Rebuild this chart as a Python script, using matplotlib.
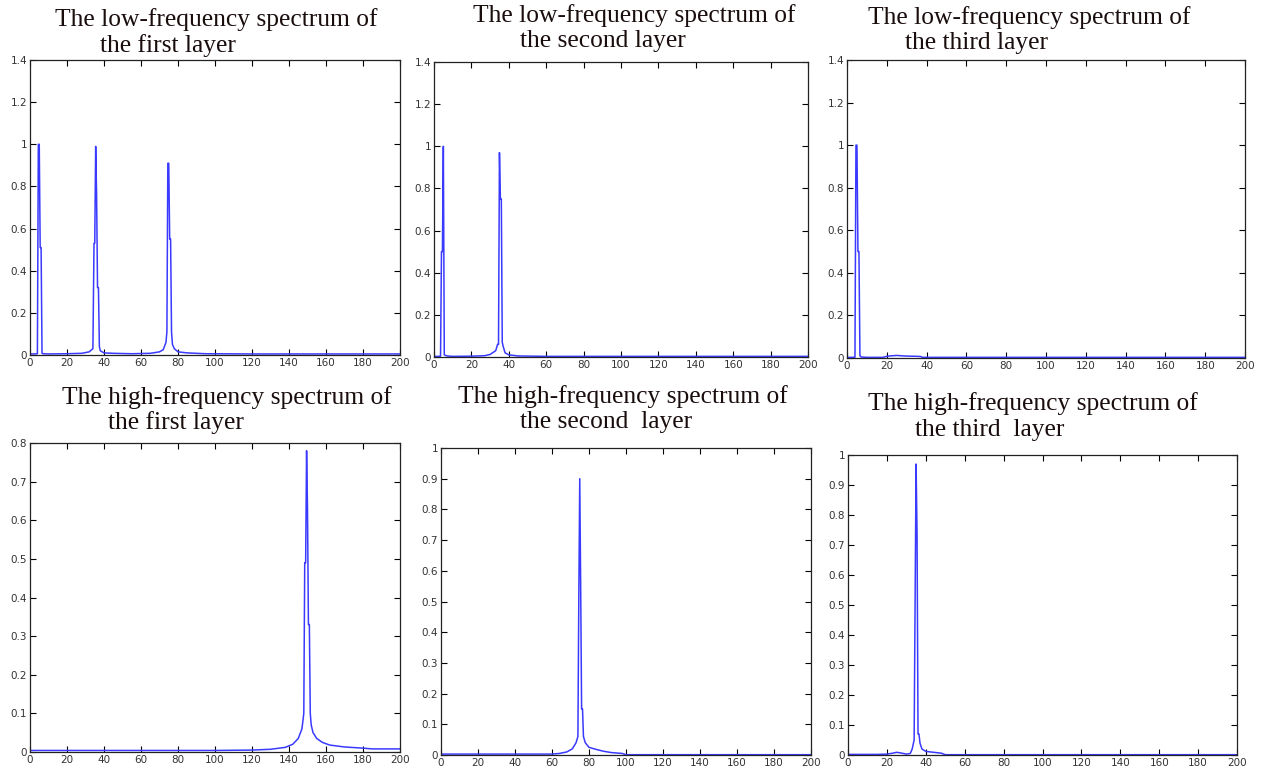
import matplotlib
matplotlib.use('Agg')
import matplotlib.pyplot as plt

# low-frequency spectra (top row)
low1_x = [0, 3, 4, 4.5, 5, 5.5, 6, 6.5, 7, 10, 20, 28, 32, 34, 34.6, 35, 35.5, 36, 36.5, 37, 37.5, 38, 40, 45, 55,
          65, 70, 72, 73.5, 74, 74.5, 75, 75.5, 76, 76.5, 77, 78, 80, 85, 95, 120, 200]
low1_y = [0.005, 0.005, 0.006, 1.0, 1.0, 0.51, 0.51, 0.008, 0.006, 0.005, 0.006, 0.008, 0.015, 0.03, 0.53, 0.53,
          0.99, 0.76, 0.32, 0.32, 0.04, 0.02, 0.01, 0.008, 0.006,
          0.008, 0.015, 0.025, 0.06, 0.11, 0.91, 0.91, 0.55, 0.55, 0.11, 0.05, 0.03, 0.015, 0.01, 0.006, 0.005, 0.005]

low2_x = [0, 3, 3.5, 4, 4.5, 5, 5.5, 6, 7, 10, 20, 27, 30, 33, 34, 34.5, 35, 35.5, 36, 36.5, 37, 38, 40, 45, 60, 200]
low2_y = [0.003, 0.003, 0.004, 0.5, 0.5, 1.0, 0.01, 0.008, 0.005, 0.003, 0.004, 0.006, 0.012, 0.03, 0.06, 0.06,
          0.97, 0.75, 0.75, 0.07, 0.05, 0.02, 0.01, 0.005, 0.003, 0.003]

low3_x = [0, 3, 4, 4.5, 5, 5.5, 6, 6.5, 7, 10, 18, 20, 22, 25, 28, 30, 35, 37, 38, 45, 200]
low3_y = [0.003, 0.003, 0.004, 1.0, 1.0, 0.5, 0.5, 0.01, 0.005, 0.003, 0.003, 0.008, 0.01, 0.012, 0.01, 0.009,
          0.008, 0.007, 0.003, 0.003, 0.003]

# high-frequency spectra (bottom row)
high1_x = [0, 60, 100, 120, 130, 138, 142, 145, 147, 148, 148.5, 149, 149.5, 150, 150.5, 151, 151.5, 152, 153,
           155, 158, 162, 170, 180, 185, 200]
high1_y = [0.004, 0.004, 0.004, 0.005, 0.007, 0.012, 0.02, 0.035, 0.06, 0.1, 0.49, 0.49, 0.78, 0.63, 0.33, 0.33,
           0.1, 0.07, 0.05, 0.035, 0.025, 0.018, 0.013, 0.01, 0.008, 0.008]

high2_x = [0, 40, 60, 64, 68, 71, 73, 74, 74.5, 75, 75.5, 76, 76.5, 77, 78, 80, 84, 88, 92, 98, 100, 200]
high2_y = [0.003, 0.003, 0.003, 0.005, 0.01, 0.02, 0.04, 0.06, 0.52, 0.9, 0.55, 0.15, 0.15, 0.06, 0.04, 0.025,
           0.018, 0.012, 0.008, 0.005, 0.001, 0.001]

high3_x = [0, 15, 20, 23, 25, 27, 30, 32, 33, 34, 34.5, 35, 35.5, 36, 36.5, 37, 38, 40, 44, 48, 50, 200]
high3_y = [0.002, 0.002, 0.003, 0.006, 0.009, 0.007, 0.003, 0.005, 0.02, 0.05, 0.51, 0.97, 0.74, 0.07, 0.07, 0.04,
           0.02, 0.012, 0.009, 0.006, 0.001, 0.001]

titles = [("The low-frequency spectrum of", "the first layer"),
          ("The low-frequency spectrum of", "the second layer"),
          ("The low-frequency spectrum of", "the third layer"),
          ("The high-frequency spectrum of", "the first layer"),
          ("The high-frequency spectrum of", "the second  layer"),
          ("The high-frequency spectrum of", "the third  layer")]

W, H = 1263, 773
fig = plt.figure(figsize=(W / 100, H / 100), dpi=100)

# axes boxes in pixels: left, top, right, bottom
boxes = [(30, 60, 400, 355), (434, 62, 808, 357), (847, 60, 1245, 358),
         (30, 443, 400, 752), (441, 448, 811, 755), (848, 455, 1237, 755)]
# title text positions: (x1, y1, x2, y2) in pixels
title_pos = [(55, 20, 100, 46), (473, 16, 520, 41), (868, 18, 905, 43),
             (62, 398, 108, 423), (458, 397, 520, 422), (868, 404, 915, 430)]

data = [(low1_x, low1_y), (low2_x, low2_y), (low3_x, low3_y),
        (high1_x, high1_y), (high2_x, high2_y), (high3_x, high3_y)]
ymax = [1.4, 1.4, 1.4, 0.8, 1.0, 1.0]
ystep = [0.2, 0.2, 0.2, 0.1, 0.1, 0.1]


def fmt(v):
    s = ('%.1f' % v).rstrip('0').rstrip('.')
    return s


for i in range(6):
    l, t, r, b = boxes[i]
    ax = fig.add_axes([l / W, 1 - b / H, (r - l) / W, (b - t) / H])
    xs, ys = data[i]
    ax.plot(xs, ys, color='#3a3aff', lw=1.1)
    ax.set_xlim(0, 200)
    ax.set_ylim(0, ymax[i])
    ax.set_xticks(range(0, 201, 20))
    n = int(round(ymax[i] / ystep[i]))
    yt = [k * ystep[i] for k in range(n + 1)]
    ax.set_yticks(yt)
    ax.set_yticklabels([fmt(v) for v in yt])
    ax.tick_params(direction='in', top=True, right=True, length=4, width=0.8,
                   labelsize=7.5, labelcolor='#333333', pad=2)
    for sp in ax.spines.values():
        sp.set_color('#222222')
        sp.set_linewidth(0.9)

    x1, y1, x2, y2 = title_pos[i]
    fig.text(x1 / W, 1 - y1 / H, titles[i][0], family='Liberation Serif', fontsize=18.4,
             color='#1a0d0d', va='center', ha='left')
    fig.text(x2 / W, 1 - y2 / H, titles[i][1], family='Liberation Serif', fontsize=18.4,
             color='#1a0d0d', va='center', ha='left')

fig.savefig('out.png', dpi=100, facecolor='white')
